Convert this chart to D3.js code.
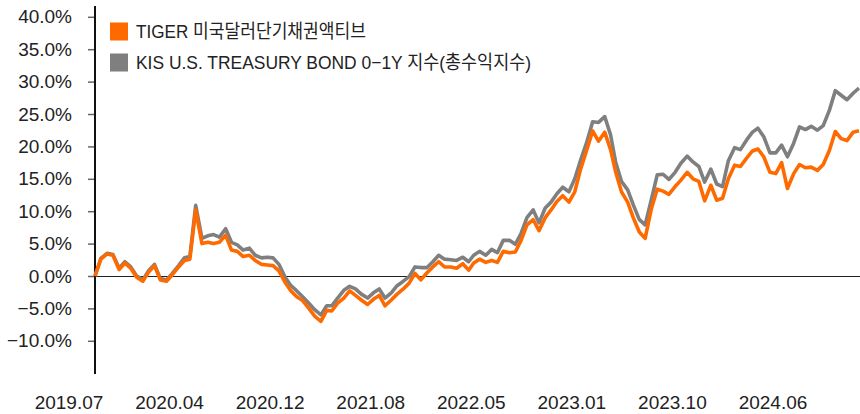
<!DOCTYPE html>
<html>
<head>
<meta charset="utf-8">
<script src="https://cdn.jsdelivr.net/npm/d3@7"></script>
<style>
  body { margin: 0; background: #fff; }
  text { font-family: "Liberation Sans", "Noto Sans CJK KR", sans-serif; fill: #222; }
</style>
</head>
<body>
<div id="my_dataviz"></div>
<script>
// half-monthly observation dates
var dates = [
  "2019-07-01","2019-07-16","2019-08-01","2019-08-16","2019-09-01","2019-09-16","2019-10-01","2019-10-16","2019-11-01","2019-11-16","2019-12-01","2019-12-16",
  "2020-01-01","2020-01-16","2020-02-01","2020-02-16","2020-03-01","2020-03-16","2020-04-01","2020-04-16","2020-05-01","2020-05-16","2020-06-01","2020-06-16",
  "2020-07-01","2020-07-16","2020-08-01","2020-08-16","2020-09-01","2020-09-16","2020-10-01","2020-10-16","2020-11-01","2020-11-16","2020-12-01","2020-12-16",
  "2021-01-01","2021-01-16","2021-02-01","2021-02-16","2021-03-01","2021-03-16","2021-04-01","2021-04-16","2021-05-01","2021-05-16","2021-06-01","2021-06-16",
  "2021-07-01","2021-07-16","2021-08-01","2021-08-16","2021-09-01","2021-09-16","2021-10-01","2021-10-16","2021-11-01","2021-11-16","2021-12-01","2021-12-16",
  "2022-01-01","2022-01-16","2022-02-01","2022-02-16","2022-03-01","2022-03-16","2022-04-01","2022-04-16","2022-05-01","2022-05-16","2022-06-01","2022-06-16",
  "2022-07-01","2022-07-16","2022-08-01","2022-08-16","2022-09-01","2022-09-16","2022-10-01","2022-10-16","2022-11-01","2022-11-16","2022-12-01","2022-12-16",
  "2023-01-01","2023-01-16","2023-02-01","2023-02-16","2023-03-01","2023-03-16","2023-04-01","2023-04-16","2023-05-01","2023-05-16","2023-06-01","2023-06-16",
  "2023-07-01","2023-07-16","2023-08-01","2023-08-16","2023-09-01","2023-09-16","2023-10-01","2023-10-16","2023-11-01","2023-11-16","2023-12-01","2023-12-16",
  "2024-01-01","2024-01-16","2024-02-01","2024-02-16","2024-03-01","2024-03-16","2024-04-01","2024-04-16","2024-05-01","2024-05-16","2024-06-01","2024-06-16",
  "2024-07-01","2024-07-16","2024-08-01","2024-08-16","2024-09-01","2024-09-16","2024-10-01","2024-10-16","2024-11-01","2024-11-16"
];

// TIGER 미국달러단기채권액티브 (%)
var tiger = [
  0, 2.6, 3.4, 3.2, 1.0, 2.0, 1.2, -0.2, -0.8, 0.6, 1.6, -0.6,
  -0.8, 0.2, 1.4, 2.4, 2.6, 10.2, 5.0, 5.2, 5.0, 5.2, 6.3, 4.0,
  3.8, 3.0, 3.2, 2.4, 1.8, 1.7, 1.6, 0.8, -1.0, -2.3, -3.2, -3.8,
  -5.0, -6.2, -7.0, -5.3, -5.4, -4.2, -3.4, -2.3, -3.0, -3.7, -4.4, -3.6,
  -3.0, -4.6, -3.7, -2.8, -2.0, -1.1, 0.4, -0.6, 0.5, 1.4, 2.2, 1.4,
  1.4, 1.2, 1.9, 0.9, 2.0, 2.6, 2.1, 2.4, 2.1, 3.8, 3.6, 3.7,
  5.5, 7.9, 8.7, 7.0, 9.0, 10.2, 11.5, 12.4, 11.4, 13.0, 16.5, 19.3,
  22.4, 20.8, 22.2, 19.5, 16.1, 13.0, 11.4, 8.9, 6.8, 5.8, 10.4, 13.4,
  13.1, 12.6, 13.8, 14.8, 16.0, 15.0, 14.6, 11.6, 14.0, 11.7, 12.0, 15.0,
  17.1, 16.9, 18.2, 19.3, 19.6, 18.4, 16.0, 15.8, 17.5, 13.5, 15.8, 17.2,
  16.7, 16.8, 16.3, 17.2, 19.4, 22.3, 21.2, 20.9, 22.2, 22.4
];

// KIS U.S. TREASURY BOND 0-1Y 지수(총수익지수) (%)
var kis = [
  0, 2.7, 3.5, 3.3, 1.2, 2.2, 1.4, 0.0, -0.6, 0.8, 1.8, -0.4,
  -0.6, 0.4, 1.6, 2.8, 3.0, 10.9, 5.8, 6.2, 6.4, 6.0, 7.3, 5.2,
  4.8, 4.0, 4.3, 3.2, 2.8, 2.9, 2.8, 1.8, -0.2, -1.5, -2.3, -3.2,
  -4.2, -5.2, -6.0, -4.6, -4.6, -3.4, -2.2, -1.6, -2.0, -2.8, -3.4, -2.6,
  -2.0, -3.4, -2.6, -1.5, -0.8, -0.1, 1.4, 1.3, 1.3, 2.2, 3.2, 2.6,
  2.5, 2.4, 2.9, 2.2, 3.2, 3.8, 3.2, 4.1, 3.6, 5.5, 5.5, 4.9,
  6.6, 9.0, 10.2, 8.2, 10.5, 11.4, 12.7, 13.7, 13.0, 15.0, 17.9, 20.5,
  23.8, 23.7, 24.6, 21.8, 17.6, 14.6, 13.3, 10.9, 8.7, 7.9, 11.8, 15.6,
  15.7, 14.9, 16.0, 17.4, 18.5, 17.6, 16.9, 14.5, 16.5, 14.2, 13.8, 17.8,
  19.8, 19.5, 21.0, 22.2, 22.8, 21.5, 19.0, 19.0, 20.2, 18.4, 20.5, 23.0,
  22.6, 23.1, 22.5, 23.2, 25.6, 28.6, 27.9, 27.2, 28.2, 29.0
];

var xLabels = ["2019.07", "2020.04", "2020.12", "2021.08", "2022.05", "2023.01", "2023.10", "2024.06"];
var yTicks = [-10, -5, 0, 5, 10, 15, 20, 25, 30, 35, 40];
var seriesNames = ["TIGER 미국달러단기채권액티브", "KIS U.S. TREASURY BOND 0\u22121Y 지수(총수익지수)"];
var colors = ["#FF6A00", "#7F7F7F"];

var width = 860, height = 414;

var svg = d3.select("#my_dataviz")
    .append("svg")
    .attr("width", width)
    .attr("height", height);

var parse = d3.timeParse("%Y-%m-%d");
var data = dates.map(function(d, i) {
    return { date: parse(d), tiger: tiger[i], kis: kis[i] };
});

// scales
var x = d3.scaleTime()
    .domain(d3.extent(data, function(d) { return d.date; }))
    .range([95, 859]);

var y = d3.scaleLinear()
    .domain([-10, 40])
    .range([340.8, 16.8]);

// zero line
svg.append("line")
    .attr("x1", 95).attr("x2", 860)
    .attr("y1", Math.round(y(0)) + 0.5).attr("y2", Math.round(y(0)) + 0.5)
    .attr("stroke", "#222")
    .attr("stroke-width", 1);

// Y axis
var yAxis = svg.append("g")
    .attr("transform", "translate(95,0)")
    .call(d3.axisLeft(y)
        .tickValues(yTicks)
        .tickSize(7)
        .tickPadding(16)
        .tickFormat(function(d) { return d3.format(".1f")(d) + "%"; }));

yAxis.select(".domain").remove();
yAxis.selectAll(".tick line").attr("stroke", "#666").attr("stroke-width", 1.5);
yAxis.selectAll(".tick text")
    .style("font-size", "19px")
    .style("font-family", "Liberation Sans, sans-serif")
    .attr("fill", "#222");

svg.append("line")
    .attr("x1", 95).attr("x2", 95)
    .attr("y1", 6).attr("y2", 374)
    .attr("stroke", "#111")
    .attr("stroke-width", 2);

// X labels, evenly spaced like the category axis
var xl = d3.scalePoint()
    .domain(xLabels)
    .range([69, 773]);

svg.selectAll(".xlab")
    .data(xLabels)
    .enter()
    .append("text")
    .attr("class", "xlab")
    .attr("x", function(d) { return xl(d); })
    .attr("y", 409)
    .attr("text-anchor", "middle")
    .style("font-size", "19px")
    .text(function(d) { return d; });

// lines
var lineKis = d3.line()
    .x(function(d) { return x(d.date); })
    .y(function(d) { return y(d.kis); });
var lineTiger = d3.line()
    .x(function(d) { return x(d.date); })
    .y(function(d) { return y(d.tiger); });

svg.append("path")
    .datum(data)
    .attr("fill", "none")
    .attr("stroke", colors[1])
    .attr("stroke-width", 3.6)
    .attr("stroke-linejoin", "round")
    .attr("d", lineKis);

svg.append("path")
    .datum(data)
    .attr("fill", "none")
    .attr("stroke", colors[0])
    .attr("stroke-width", 3.6)
    .attr("stroke-linejoin", "round")
    .attr("d", lineTiger);

// legend
var legendW = [230, 395];
var legend = svg.selectAll(".leg")
    .data(seriesNames)
    .enter()
    .append("g")
    .attr("class", "leg")
    .attr("transform", function(d, i) { return "translate(110," + (22.5 + i * 31) + ")"; });

legend.append("rect")
    .attr("width", 18).attr("height", 18)
    .attr("fill", function(d, i) { return colors[i]; });

legend.append("text")
    .attr("x", 26)
    .attr("y", 9)
    .attr("dy", "0.36em")
    .style("font-size", "19px")
    .attr("textLength", function(d, i) { return legendW[i]; })
    .attr("lengthAdjust", "spacingAndGlyphs")
    .text(function(d) { return d; });
</script>
</body>
</html>
